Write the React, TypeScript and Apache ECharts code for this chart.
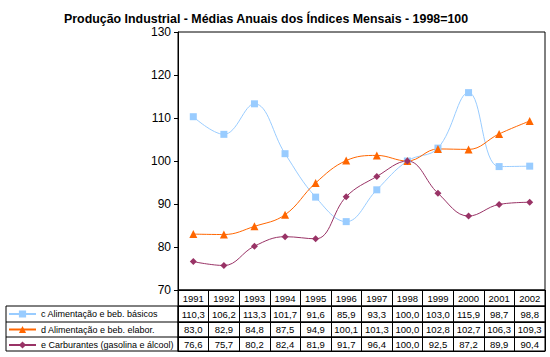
import React, { useEffect, useRef } from "react";
import * as echarts from "echarts";

const years = ["1991", "1992", "1993", "1994", "1995", "1996", "1997", "1998", "1999", "2000", "2001", "2002"];
const basicos = [110.3, 106.2, 113.3, 101.7, 91.6, 85.9, 93.3, 100.0, 103.0, 115.9, 98.7, 98.8];
const elabor = [83.0, 82.9, 84.8, 87.5, 94.9, 100.1, 101.3, 100.0, 102.8, 102.7, 106.3, 109.3];
const carbur = [76.6, 75.7, 80.2, 82.4, 81.9, 91.7, 96.4, 100.0, 92.5, 87.2, 89.9, 90.4];
const seriesNames = [
  "c Alimentação e beb. básicos",
  "d Alimentação e beb. elabor.",
  "e Carburantes (gasolina e álcool)",
];
const colors = ["#99CCFF", "#FF6600", "#993366"];
const symbols = ["rect", "triangle", "diamond"];
const symbolSizes = [7, 8, 7];
const yTicks = { min: 70, max: 130, interval: 10 };
const title = "Produção Industrial - Médias Anuais dos Índices Mensais - 1998=100";

const FONT = "Liberation Sans, Arial, sans-serif";
const fmt = (v: number) => v.toFixed(1).replace(".", ",");

export default function App() {
  const ref = useRef<HTMLDivElement>(null);
  useEffect(() => {
    if (!ref.current) return;
    const chart = echarts.init(ref.current, undefined, { renderer: "svg" });
    const L = 178;
    const R = 5;
    const rows = [
      { top: 290, h: 16, data: years },
      { top: 306, h: 16, data: basicos.map(fmt) },
      { top: 322, h: 15, data: elabor.map(fmt) },
      { top: 337, h: 14, data: carbur.map(fmt) },
    ];
    const grids: any[] = [
      { left: L, right: R, top: 32, height: 258, show: true, borderColor: "#000", borderWidth: 1, backgroundColor: "transparent" },
    ];
    const xAxes: any[] = [
      {
        type: "category",
        data: years,
        gridIndex: 0,
        boundaryGap: true,
        axisLine: { show: true, lineStyle: { color: "#000", width: 1 } },
        axisTick: { show: false },
        axisLabel: { show: false },
      },
    ];
    const yAxes: any[] = [
      {
        type: "value",
        gridIndex: 0,
        min: yTicks.min,
        max: yTicks.max,
        interval: yTicks.interval,
        axisLine: { show: true, lineStyle: { color: "#000", width: 1 } },
        axisTick: { show: true, length: 4, lineStyle: { color: "#000" } },
        axisLabel: { color: "#000", fontSize: 12, fontFamily: FONT, margin: 7 },
        splitLine: { show: false },
      },
    ];
    rows.forEach((r, i) => {
      grids.push({
        left: L,
        right: R,
        top: r.top,
        height: r.h,
        show: true,
        borderColor: "#000",
        borderWidth: 1,
        backgroundColor: "transparent",
      });
      xAxes.push({
        type: "category",
        data: r.data,
        gridIndex: i + 1,
        boundaryGap: true,
        axisLine: { show: true, lineStyle: { color: "#000", width: 1 } },
        axisTick: { show: true, inside: true, length: r.h, interval: 0, lineStyle: { color: "#000" } },
        axisLabel: {
          inside: true,
          interval: 0,
          margin: (r.h - 10) / 2,
          color: "#000",
          fontSize: 9.5,
          fontFamily: FONT,
        },
      });
      yAxes.push({ type: "value", gridIndex: i + 1, show: false });
    });

    const dataSets = [basicos, elabor, carbur];
    const series = dataSets.map((d, i) => ({
      name: seriesNames[i],
      type: "line",
      xAxisIndex: 0,
      yAxisIndex: 0,
      data: d,
      smooth: 0.4,
      symbol: symbols[i],
      symbolSize: symbolSizes[i],
      lineStyle: { color: colors[i], width: 1 },
      itemStyle: { color: colors[i] },
    }));

    chart.setOption({
      animation: false,
      backgroundColor: "#fff",
      title: {
        text: title,
        left: 59,
        top: 8,
        textStyle: { fontSize: 12.4, fontWeight: "bold", fontFamily: FONT, color: "#000" },
      },
      grid: grids,
      xAxis: xAxes,
      yAxis: yAxes,
      legend: {
        orient: "vertical",
        left: 8,
        top: 308,
        itemWidth: 27,
        itemHeight: 9,
        itemGap: 3.5,
        padding: 0,
        selectedMode: false,
        data: seriesNames,
        textStyle: { fontSize: 9, fontFamily: FONT, color: "#000", lineHeight: 12 },
      },
      graphic: [
        { type: "rect", shape: { x: 6, y: 306, width: L - 6, height: 45 }, style: { fill: "none", stroke: "#000", lineWidth: 1 } },
        { type: "line", shape: { x1: 6, y1: 322, x2: L, y2: 322 }, style: { stroke: "#000", lineWidth: 1 } },
        { type: "line", shape: { x1: 6, y1: 337, x2: L, y2: 337 }, style: { stroke: "#000", lineWidth: 1 } },
      ],
      series,
    });
    return () => chart.dispose();
  }, []);
  return (
    <div
      ref={ref}
      style={{ position: "fixed", left: 0, top: 0, width: 550, height: 357, background: "#fff" }}
    />
  );
}
